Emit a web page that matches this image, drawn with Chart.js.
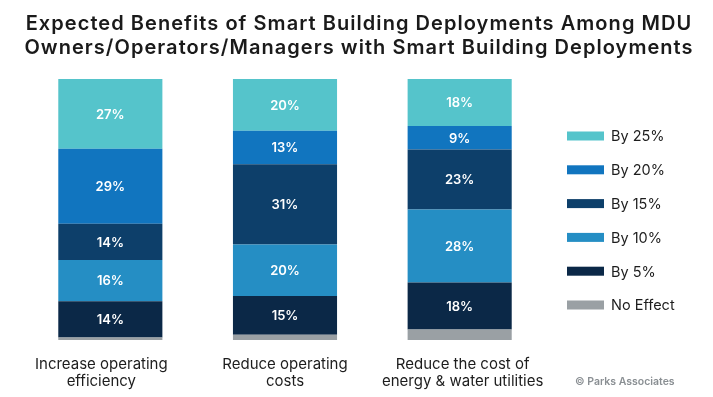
<!DOCTYPE html>
<html><head><meta charset="utf-8">
<script src="https://cdn.jsdelivr.net/npm/chart.js@4/dist/chart.umd.min.js"></script>
<style>html,body{margin:0;padding:0;background:#fff}#wrap{width:713px;height:397px;position:relative}</style>
</head><body><div id="wrap"><canvas id="c" width="713" height="397"></canvas></div>
<script>
const titleLines = ["Expected Benefits of Smart Building Deployments Among MDU","Owners/Operators/Managers with Smart Building Deployments"];
const categories = [["Increase operating","efficiency"],["Reduce operating","costs"],["Reduce the cost of","energy & water utilities"]];
const seriesNames = ["No Effect","By 5%","By 10%","By 15%","By 20%","By 25%"];
const noEffect = [1, 2, 4];
const by5 = [14, 15, 18];
const by10 = [16, 20, 28];
const by15 = [14, 31, 23];
const by20 = [29, 13, 9];
const by25 = [27, 20, 18];
const colors = ["#9AA0A4","#0B2847","#258EC4","#0D3F6A","#1175BF","#55C4CB"];
const sourceText = "© Parks Associates";

const raw = [noEffect, by5, by10, by15, by20, by25];
const totals = categories.map((_, i) => raw.reduce((s, a) => s + a[i], 0));
const FONT = "Inter, Lato, sans-serif";

const datasets = raw.map((arr, k) => ({
  label: seriesNames[k],
  data: arr.map((v, i) => v / totals[i] * 100),
  rawValues: arr,
  backgroundColor: colors[k],
  borderWidth: 0,
  categoryPercentage: 1,
  barPercentage: 0.596,
  showLabel: k > 0
}));

const deco = {
  id: 'deco',
  afterDatasetsDraw(chart) {
    const ctx = chart.ctx;
    ctx.save();
    ctx.fillStyle = '#ffffff';
    ctx.font = "600 13px " + FONT;
    ctx.textAlign = 'center';
    ctx.textBaseline = 'middle';
    chart.data.datasets.forEach((ds, k) => {
      if (!ds.showLabel) return;
      chart.getDatasetMeta(k).data.forEach((el, i) => {
        const y = (el.y + el.base) / 2;
        ctx.fillText(ds.rawValues[i] + '%', el.x, y + 1);
      });
    });
    const xs = chart.scales.x;
    const labelShift = [-9, 0, 3];
    ctx.fillStyle = '#1d1d1d';
    ctx.font = "15px " + FONT;
    chart.data.labels.forEach((lab, i) => {
      const x = xs.getPixelForValue(i) + labelShift[i];
      lab.forEach((line, j) => ctx.fillText(line, x, 364 + j * 17));
    });
    ctx.font = "600 20px " + FONT;
    ctx.fillStyle = '#1a1a1a';
    if ('letterSpacing' in ctx) ctx.letterSpacing = '1.05px';
    titleLines.forEach((t, j) => ctx.fillText(t, 359, 24 + j * 24));
    if ('letterSpacing' in ctx) ctx.letterSpacing = '0px';
    const items = chart.data.datasets.slice().reverse();
    ctx.textAlign = 'left';
    ctx.font = "14.5px " + FONT;
    items.forEach((ds, j) => {
      const cy = 136 + j * 33.8;
      ctx.fillStyle = ds.backgroundColor;
      ctx.fillRect(567, cy - 4.5, 37, 9);
      ctx.fillStyle = '#1d1d1d';
      ctx.fillText(ds.label, 611, cy + 1);
    });
    ctx.font = "600 10.5px " + FONT;
    ctx.fillStyle = '#8a8f93';
    ctx.fillText(sourceText, 575, 382);
    ctx.restore();
  }
};

new Chart(document.getElementById('c'), {
  type: 'bar',
  data: { labels: categories, datasets },
  options: {
    responsive: false,
    animation: false,
    layout: { padding: { top: 79, bottom: 57, left: 23, right: 166 } },
    plugins: { legend: { display: false }, tooltip: { enabled: false }, title: { display: false } },
    scales: {
      x: { stacked: true, display: false, grid: { display: false } },
      y: { stacked: true, display: false, min: 0, max: 100, grid: { display: false } }
    }
  },
  plugins: [deco]
});
</script></body></html>
